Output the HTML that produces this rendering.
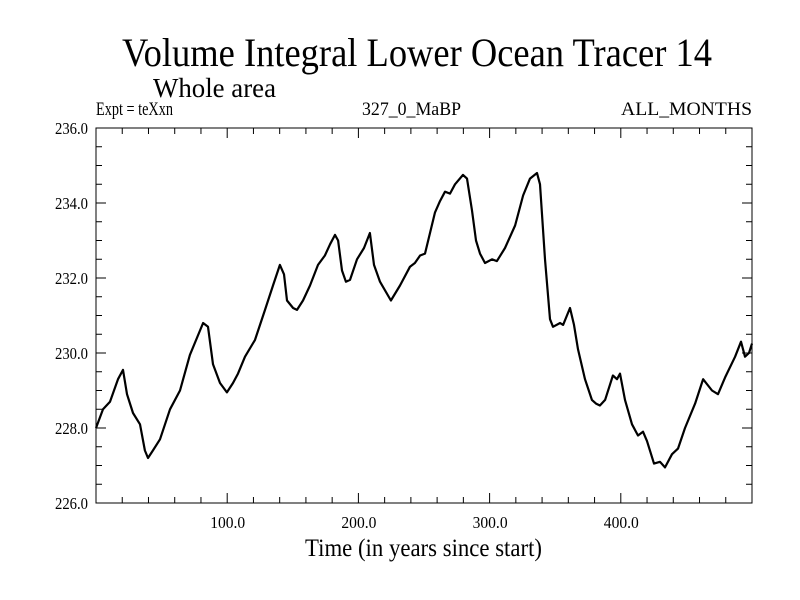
<!DOCTYPE html>
<html><head><meta charset="utf-8"><style>body{margin:0;background:#fff}svg{display:block}text{font-family:"Liberation Serif",serif;fill:#000}</style></head>
<body>
<svg id="chart" width="800" height="600" viewBox="0 0 800 600" xmlns="http://www.w3.org/2000/svg">
<text x="122" y="66" font-size="40" textLength="590" lengthAdjust="spacingAndGlyphs">Volume Integral Lower Ocean Tracer 14</text>
<text x="153" y="97" font-size="27" textLength="123" lengthAdjust="spacingAndGlyphs">Whole area</text>
<text x="96" y="115" font-size="19" textLength="77" lengthAdjust="spacingAndGlyphs">Expt = teXxn</text>
<text x="362" y="115" font-size="19" textLength="99" lengthAdjust="spacingAndGlyphs">327_0_MaBP</text>
<text x="621" y="115" font-size="19" textLength="131" lengthAdjust="spacingAndGlyphs">ALL_MONTHS</text>
<text x="305" y="556" font-size="25" textLength="237" lengthAdjust="spacingAndGlyphs">Time (in years since start)</text>
<g id="axes"></g>
<rect x="96" y="128" width="656" height="375" fill="none" stroke="#000" stroke-width="1"/>
<path id="line" fill="none" stroke="#000" stroke-width="2.2" stroke-linejoin="round"/>
</svg>
<script>
const years=[0,5.3,10.7,16.8,20.6,23.6,28.2,33.5,37.3,39.6,43.4,48.8,56.4,64,71.6,79.3,81.6,85.4,89.2,94.5,99.8,104.4,108.2,113.6,121.2,128.8,134.9,140.2,143.3,145.6,150.2,153.2,157.8,163.1,169.2,174.5,178.4,182.2,184.5,187.5,190.5,193.6,198.9,204.3,208.8,211.9,216.5,224.8,231.7,239.3,243.1,247,250.8,254.6,258.4,262.2,266,269.8,273.6,279.7,282.8,286.6,289.6,292.7,296.5,301.8,305.6,311.7,319.4,325.5,330.8,336.1,338.4,342.2,346,348.3,353.7,356,361.3,364.3,367.4,372.7,378,381.1,384.1,388,394,397.1,399.4,403.2,408.5,413.1,416.9,420,425.3,429.9,433.7,439,443.6,448.9,456.6,462.7,469.5,474.1,479.5,487.1,491.6,494.7,497.7,500];
const values=[228.0,228.5,228.7,229.3,229.55,228.9,228.4,228.1,227.4,227.2,227.4,227.7,228.5,229.0,229.95,230.6,230.8,230.7,229.7,229.2,228.95,229.2,229.45,229.9,230.35,231.15,231.8,232.35,232.1,231.4,231.2,231.15,231.4,231.8,232.35,232.6,232.9,233.15,233.0,232.2,231.9,231.95,232.5,232.8,233.2,232.35,231.9,231.4,231.8,232.3,232.4,232.6,232.65,233.2,233.75,234.05,234.3,234.25,234.5,234.75,234.65,233.8,233.0,232.65,232.4,232.5,232.45,232.8,233.4,234.2,234.65,234.8,234.5,232.5,230.9,230.7,230.8,230.75,231.2,230.75,230.1,229.3,228.75,228.65,228.6,228.75,229.4,229.3,229.45,228.75,228.1,227.8,227.9,227.65,227.05,227.1,226.95,227.3,227.45,228.0,228.65,229.3,229.0,228.9,229.35,229.9,230.3,229.9,230.0,230.25];
const xTicks=[100,200,300,400];
const xTickLabels=["100.0","200.0","300.0","400.0"];
const yTicks=[226,228,230,232,234,236];
const yTickLabels=["226.0","228.0","230.0","232.0","234.0","236.0"];
const L=96,R=752,T=128,B=503,X0=0,X1=500,Y0=226,Y1=236;
const sx=v=>L+(v-X0)/(X1-X0)*(R-L);
const sy=v=>B-(v-Y0)/(Y1-Y0)*(B-T);
const NS="http://www.w3.org/2000/svg";
const ax=document.getElementById('axes');
function mk(tag,attrs){const e=document.createElementNS(NS,tag);for(const k in attrs)e.setAttribute(k,attrs[k]);ax.appendChild(e);return e;}
for(let v=20;v<X1;v+=20){const x=sx(v);const len=(v%100===0)?10:6;
const t1=mk('line',{x1:x,x2:x,y1:B,y2:B-len,stroke:'#000'});


const t2=mk('line',{x1:x,x2:x,y1:T,y2:T+len,stroke:'#000'});

}
for(let v=Y0+0.5;v<Y1;v+=0.5){const y=sy(v);const len=(Math.abs(v%2)<1e-6)?10:6;
const t1=mk('line',{x1:L,x2:L+len,y1:y,y2:y,stroke:'#000'});


const t2=mk('line',{x1:R,x2:R-len,y1:y,y2:y,stroke:'#000'});

}
xTicks.forEach((v,i)=>{const t=mk('text',{x:sx(v)-17,y:528,'font-size':17,textLength:35,lengthAdjust:'spacingAndGlyphs'});t.textContent=xTickLabels[i];

});
yTicks.forEach((v,i)=>{const t=mk('text',{x:55,y:sy(v)+6,'font-size':17,textLength:33,lengthAdjust:'spacingAndGlyphs'});t.textContent=yTickLabels[i];

});
document.getElementById('line').setAttribute('d',years.map((y,i)=>(i?'L':'M')+sx(y).toFixed(1)+','+sy(values[i]).toFixed(1)).join(''));
</script>
</body></html>
